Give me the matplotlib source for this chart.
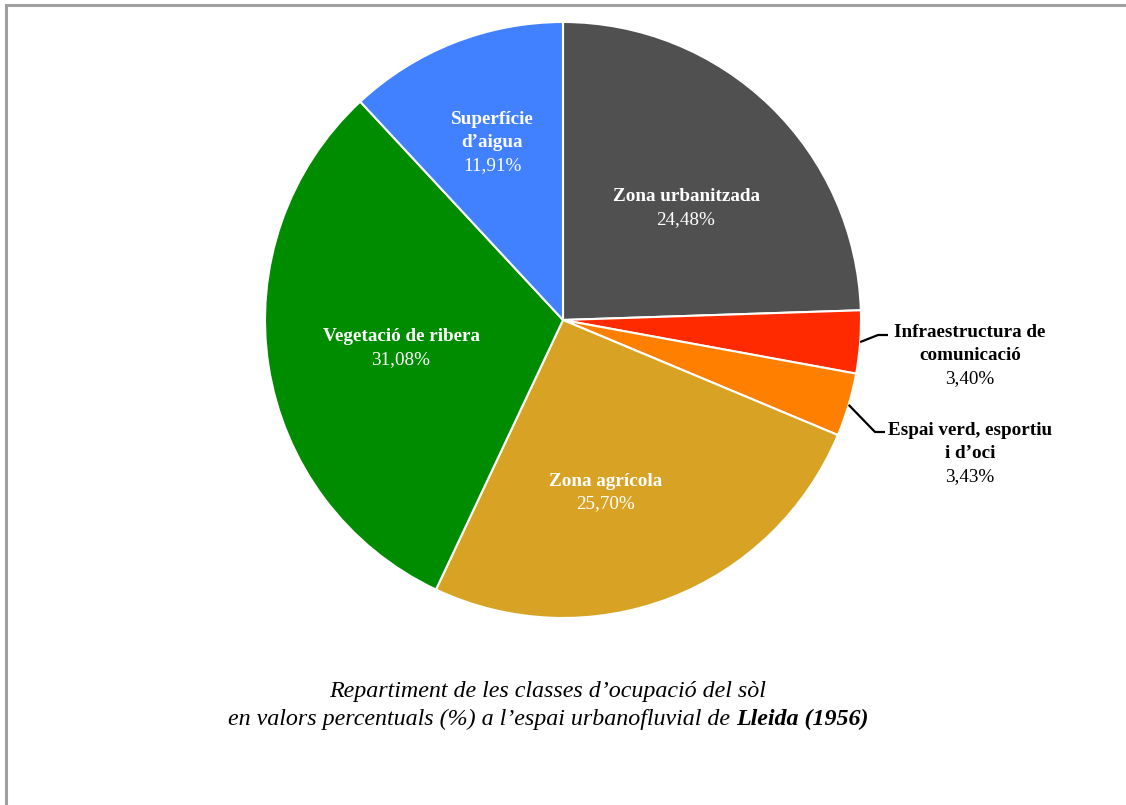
import numpy as np
import matplotlib.pyplot as plt

plt.rcParams['font.family'] = ['Liberation Serif', 'DejaVu Serif']

# Land-use classes, Lleida 1956 (%)
classes = ["Zona urbanitzada", "Infraestructura de\ncomunicació",
           "Espai verd, esportiu\ni d\u2019oci", "Zona agrícola",
           "Vegetació de ribera", "Superfície\nd\u2019aigua"]
percent = [24.48, 3.40, 3.43, 25.70, 31.08, 11.91]
colors = ["#505050", "#ff2a00", "#ff7f00", "#d8a325", "#008c00", "#4180ff"]

W, H = 1126, 805
fig = plt.figure(figsize=(W / 100, H / 100), dpi=100)
ax = fig.add_axes([0, 0, 1, 1])

cx, cy, r = 563, H - 320, 298
wedges, _ = ax.pie(percent, colors=colors, startangle=90, counterclock=False,
                   center=(cx, cy), radius=r, frame=True,
                   wedgeprops=dict(edgecolor="white", linewidth=1.5))
ax.set_xlim(0, W)
ax.set_ylim(0, H)
ax.set_aspect("equal")
ax.axis("off")

line_h = 23
name_size = 13.8


def block(x, y, name, pct, color):
    lines = name.split("\n")
    n = len(lines) + 1
    for i, txt in enumerate(lines + [pct]):
        yy = y - (i - (n - 1) / 2) * line_h
        ax.text(x, yy, txt, ha="center", va="center", color=color,
                fontsize=name_size,
                fontweight="bold" if i < len(lines) else "normal")


def fmt(v):
    return f"{v:.2f}".replace(".", ",") + "%"


# inside labels: (distance as fraction of radius, angle offset in degrees)
inside = {0: (0.563, -3.1), 3: (0.588, -7.1), 4: (0.55, 0.0), 5: (0.65, 0.0)}
for i, w in enumerate(wedges):
    if i in inside:
        frac, dth = inside[i]
        mid = np.deg2rad((w.theta1 + w.theta2) / 2 + dth)
        d = frac * r
        block(cx + d * np.cos(mid), cy + d * np.sin(mid) - 2.5,
              classes[i], fmt(percent[i]), "white")

# outside labels with leader lines
outside = {1: ((878, H - 335), (888, H - 335), (970, H - 356)),
           2: ((875, H - 432), (885, H - 432), (970, H - 453.5))}
for i, (elbow, end, txt) in outside.items():
    w = wedges[i]
    mid = np.deg2rad((w.theta1 + w.theta2) / 2)
    x0, y0 = cx + r * np.cos(mid), cy + r * np.sin(mid)
    ax.plot([x0, elbow[0], end[0]], [y0, elbow[1], end[1]],
            color="black", lw=1.6, solid_capstyle="butt")
    block(txt[0], txt[1], classes[i], fmt(percent[i]), "black")

# caption
fig.canvas.draw()
renderer = fig.canvas.get_renderer()
cap_size = 17.3
ax.text(548, H - 691, "Repartiment de les classes d\u2019ocupació del sòl",
        ha="center", va="center", fontsize=cap_size, style="italic")
part1 = "en valors percentuals (%) a l\u2019espai urbanofluvial de "
part2 = "Lleida (1956)"
t1 = ax.text(0, H - 719.5, part1, ha="left", va="center", fontsize=cap_size,
             style="italic")
t2 = ax.text(0, H - 719.5, part2, ha="left", va="center", fontsize=cap_size,
             style="italic", fontweight="bold")
w1 = t1.get_window_extent(renderer).width
w2 = t2.get_window_extent(renderer).width
x_start = 548 - (w1 + w2) / 2
t1.set_x(x_start)
t2.set_x(x_start + w1)

# frame border (top and left edges)
ax.plot([5.5, 5.5, W], [0, H - 5.5, H - 5.5], color="#a0a0a0", lw=2.2,
        solid_joinstyle="miter")

fig.savefig("out.png", dpi=100)
